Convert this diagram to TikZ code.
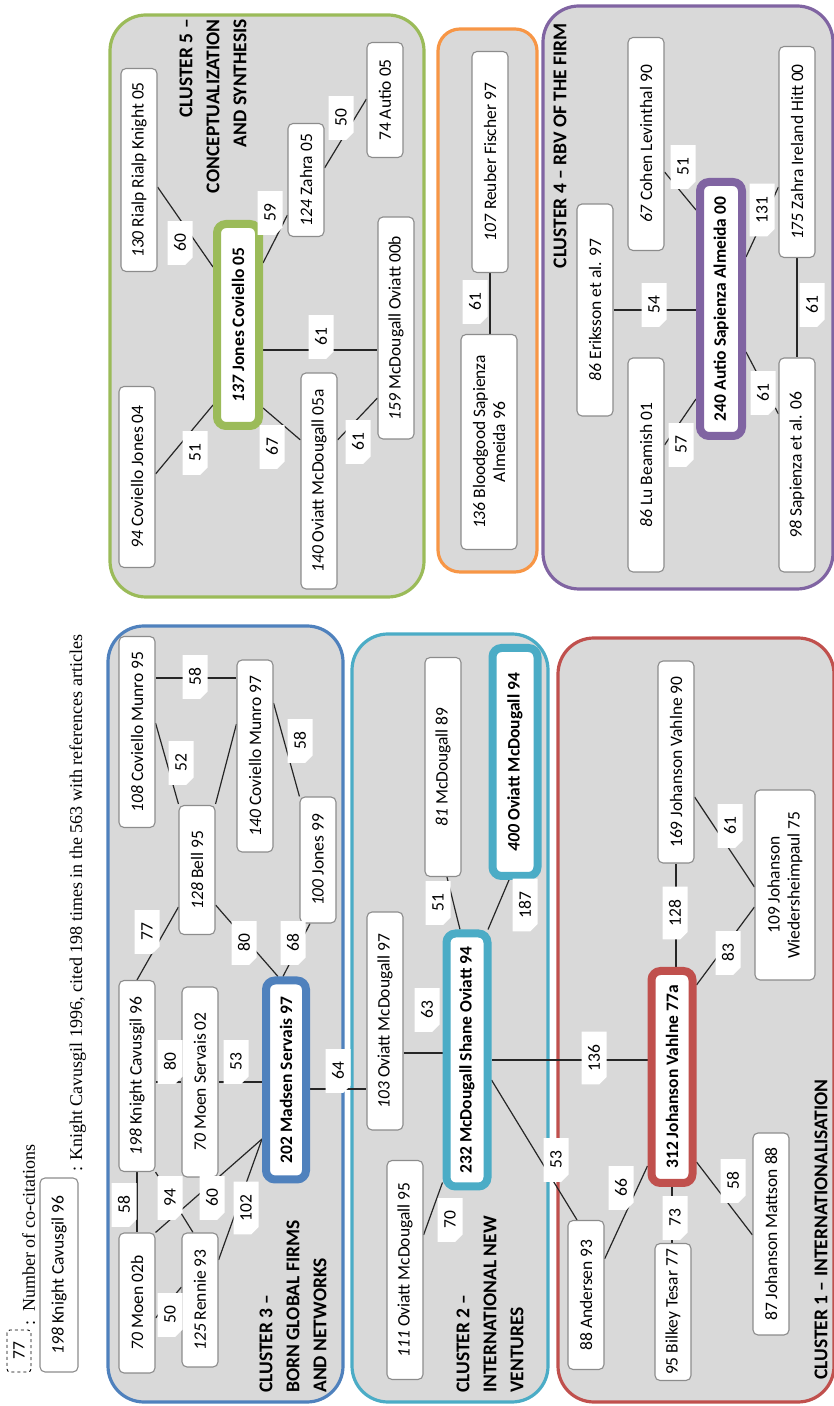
\documentclass[tikz,border=0pt]{standalone}
\usepackage{fontspec}
\setmainfont{Carlito}
\newfontfamily\legendfont{Liberation Serif}
\usepackage{xcolor}
\usetikzlibrary{shapes.misc}

\definecolor{cgreen}{HTML}{9BBB59}
\definecolor{corange}{HTML}{F79646}
\definecolor{cpurple}{HTML}{8064A2}
\definecolor{cblue}{HTML}{4F81BD}
\definecolor{ccyan}{HTML}{4BACC6}
\definecolor{cred}{HTML}{C0504D}
\definecolor{cfill}{HTML}{D9D9D9}

\pgfdeclarelayer{clusters}
\pgfdeclarelayer{links}
\pgfsetlayers{clusters,links,main}

\begin{document}
\begin{tikzpicture}[
    x=1pt, y=1pt,
    ref/.style={rectangle, rounded corners=5pt, draw=black!45, line width=1.1pt, fill=white, minimum height=36pt, inner sep=2pt, font=\fontsize{17.5}{20}\selectfont, align=center},
    hub/.style={ref, line width=8pt, rounded corners=9pt, font=\fontsize{17.5}{20}\selectfont\bfseries},
    cnt/.style={chamfered rectangle, chamfered rectangle corners=south west, chamfered rectangle xsep=4pt, fill=white, minimum width=40pt, minimum height=25pt, inner xsep=9pt, inner ysep=1pt, font=\fontsize{17.5}{20}\selectfont},
    link/.style={line width=1.2pt, black!85},
    cluster/.style={rounded corners=36pt, line width=3.2pt, fill=cfill},
    clabel/.style={font=\fontsize{19.5}{27}\selectfont\bfseries, inner sep=0pt},
    dashbox/.style={draw, dashed, line width=0.9pt, rounded corners=3pt, minimum width=42pt, minimum height=24pt, inner sep=0pt, font=\fontsize{17.5}{20}\selectfont},
    legendtxt/.style={font=\legendfont\fontsize{18}{20}\selectfont, inner sep=0pt}
]
\begin{scope}[rotate=90, transform shape]
\useasboundingbox (0,0) rectangle (1406,-834);

% Legend
\node[dashbox] (key) at (55,-19) {77};
\node[legendtxt, anchor=base west] (keytxt) at (80,-35) {:\ \ Number of co-citations};
\node[ref, minimum width=194pt, minimum height=38pt] (keyref) at (131,-59) {\textit{198} Knight Cavusgil 96};
\node[legendtxt, anchor=base west] (keyreftxt) at (234,-82) {: Knight Cavusgil 1996, cited 198 times in the 563 with references articles};

% Cluster frames
\begin{pgfonlayer}{clusters}
\draw[cluster, draw=cgreen] (809,-110) rectangle (1391,-424);
\draw[cluster, draw=corange, rounded corners=22pt] (834,-438) rectangle (1377,-537);
\draw[cluster, draw=cpurple] (817,-543) rectangle (1400,-833);
\draw[cluster, draw=cblue] (4,-108) rectangle (780,-343);
\draw[cluster, draw=ccyan] (4,-352) rectangle (772,-548);
\draw[cluster, draw=cred] (4,-558) rectangle (768,-834);
\end{pgfonlayer}

% Cluster titles
\node[clabel, align=right, anchor=east] (c5lab) at (1387,-213) {CLUSTER 5 –\\CONCEPTUALIZATION\\AND SYNTHESIS};
\node[clabel, anchor=east] (c4lab) at (1383,-560) {CLUSTER 4 – RBV OF THE FIRM};
\node[clabel, align=left, anchor=west] (c3lab) at (13,-293) {CLUSTER 3 –\\BORN GLOBAL FIRMS\\AND NETWORKS};
\node[clabel, align=left, anchor=west] (c2lab) at (13,-490) {CLUSTER 2 –\\INTERNATIONAL NEW\\VENTURES};
\node[clabel, anchor=west] (c1lab) at (26,-821) {CLUSTER 1 – INTERNATIONALISATION};

% Cluster 5: conceptualization and synthesis
\node[ref, minimum width=203pt] (rialp) at (1236,-139) {\textit{130} Rialp Rialp Knight 05};
\node[hub, draw=cgreen, minimum width=202pt, minimum height=42pt] (jonescov) at (1081,-238) {\textit{137} Jones Coviello 05};
\node[ref, minimum width=181pt] (covjones) at (929,-137) {\textit{94} Coviello Jones 04};
\node[ref, minimum width=113pt] (zahra) at (1226,-306) {\textit{124} Zahra 05};
\node[ref, minimum width=115pt] (autio) at (1306,-385) {74 Autio 05};
\node[ref, minimum width=222pt] (mcdov) at (1078,-396) {\textit{159} McDougall Oviatt 00b};
\node[ref, minimum width=216pt] (ovmcd) at (925,-319) {\textit{140} Oviatt McDougall 05a};

\begin{pgfonlayer}{links}
\draw[link] ([xshift=-17pt]rialp.south) -- ([xshift=58pt]jonescov.north);
\draw[link] ([xshift=3pt]covjones.south) -- ([xshift=-80pt]jonescov.north);
\draw[link] ([xshift=62pt]jonescov.south) -- ([xshift=-35pt]zahra.north);
\draw[link] ([xshift=-83pt]jonescov.south) -- ([xshift=41pt]ovmcd.north);
\draw[link] ([xshift=-25pt]jonescov.south) -- ([xshift=-22pt]mcdov.north);
\draw[link] ([xshift=41pt]ovmcd.south) -- ([xshift=-70pt]mcdov.north);
\draw[link] ([xshift=12pt]zahra.south) -- ([xshift=1pt]autio.north);
\end{pgfonlayer}

\node[cnt] (rialpjc) at (1163,-180) {60};
\node[cnt] (jczahra) at (1193,-270) {59};
\node[cnt] (cjjc) at (953,-195) {51};
\node[cnt] (jcovmcd) at (959,-272) {67};
\node[cnt] (jcmcdov) at (1069,-321) {61};
\node[cnt] (ovmcdov) at (964,-358) {61};
\node[cnt] (zahraautio) at (1288,-341) {50};

% Orange group
\node[ref, minimum width=221pt] (reuber) at (1244,-490) {\textit{107} Reuber Fischer 97};
\node[ref, minimum width=215pt, minimum height=56pt] (bloodgood) at (964,-489) {\textit{136} Bloodgood Sapienza\\Almeida 96};
\begin{pgfonlayer}{links}
\draw[link] (reuber.west) -- (reuber.west -| bloodgood.east);
\end{pgfonlayer}
\node[cnt] (reuberbg) at (1104,-475) {61};

% Cluster 4: RBV of the firm
\node[ref, minimum width=213pt] (cohen) at (1262,-646) {\textit{67} Cohen Levinthal 90};
\node[hub, draw=cpurple, minimum width=254pt, minimum height=42pt] (autiosap) at (1097,-721) {240 Autio Sapienza Almeida 00};
\node[ref, minimum width=211pt] (zahrair) at (1254,-797) {\textit{175} Zahra Ireland Hitt 00};
\node[ref, minimum width=212pt] (eriksson) at (1096,-595) {\textit{86} Eriksson et al. 97};
\node[ref, minimum width=214pt] (lubeamish) at (941,-646) {\textit{86} Lu Beamish 01};
\node[ref, minimum width=214pt] (sapienza) at (941,-797) {\textit{98} Sapienza et al. 06};

\begin{pgfonlayer}{links}
\draw[link] ([xshift=-28pt]cohen.south) -- ([xshift=99pt]autiosap.north);
\draw[link] (eriksson.south) -- (eriksson.south |- autiosap.north);
\draw[link] ([xshift=52pt]autiosap.south) -- ([xshift=-35pt]zahrair.north);
\draw[link] ([xshift=20pt]lubeamish.south) -- ([xshift=-90pt]autiosap.north);
\draw[link] ([xshift=-43pt]autiosap.south) -- ([xshift=51pt]sapienza.north);
\draw[link] (zahrair.west) -- (zahrair.west -| sapienza.east);
\end{pgfonlayer}

\node[cnt] (cohenas) at (1239,-683) {51};
\node[cnt] (erikas) at (1101,-654) {54};
\node[cnt] (aszahra) at (1196,-762) {131};
\node[cnt] (luas) at (961,-681) {57};
\node[cnt] (assap) at (1013,-763) {61};
\node[cnt] (zahrasap) at (1101,-812) {61};

% Cluster 3: born global firms and networks
\node[ref, minimum width=191pt] (cm95) at (674,-137) {\textit{108} Coviello Munro 95};
\node[ref, minimum width=192pt] (cm97) at (650,-255) {\textit{140} Coviello Munro 97};
\node[ref, minimum width=129pt] (bell) at (536,-197) {\textit{128} Bell 95};
\node[ref, minimum width=126pt] (jones99) at (546,-318) {\textit{100} Jones 99};
\node[ref, minimum width=191pt] (kc96) at (330,-137) {\textit{198} Knight Cavusgil 96};
\node[ref, minimum width=190pt] (ms02) at (324,-200) {\textit{70} Moen Servais 02};
\node[hub, draw=cblue, minimum width=199pt, minimum height=40pt] (madsen) at (326,-286) {202 Madsen Servais 97};
\node[ref, minimum width=140pt] (moen02b) at (103,-137) {\textit{70} Moen 02b};
\node[ref, minimum width=134pt] (rennie) at (106,-200) {\textit{125} Rennie 93};

% Cluster 2: international new ventures
\node[ref, minimum width=219pt] (mcd89) at (639,-443) {\textit{81} McDougall 89};
\node[hub, draw=ccyan, minimum width=228pt, minimum height=45pt] (om94) at (644,-515) {\textit{400} Oviatt McDougall 94};
\node[ref, minimum width=218pt] (ov97) at (385,-385) {\textit{103} Oviatt McDougall 97};
\node[hub, draw=ccyan, minimum width=253pt, minimum height=41pt] (msov94) at (346,-467) {232 McDougall Shane Oviatt 94};
\node[ref, minimum width=219pt] (ov95) at (136,-405) {\textit{111} Oviatt McDougall 95};

% Cluster 1: internationalisation
\node[ref, minimum width=202pt] (jv90) at (644,-676) {169 Johanson Vahlne 90};
\node[ref, minimum width=190pt, minimum height=60pt] (jw75) at (521,-785) {109 Johanson\\Wiedersheimpaul 75};
\node[hub, draw=cred, minimum width=212pt, minimum height=41pt] (jv77a) at (329,-672) {312 Johanson Vahlne 77a};
\node[ref, minimum width=149pt] (andersen) at (111,-586) {88 Andersen 93};
\node[ref, minimum width=137pt] (bilkey) at (94,-673) {95 Bilkey Tesar 77};
\node[ref, minimum width=202pt] (jm88) at (172,-771) {87 Johanson Mattson 88};

\begin{pgfonlayer}{links}
% cluster 3
\draw[link] ([xshift=54pt]cm95.south) -- ([xshift=78pt]cm97.north);
\draw[link] ([xshift=9pt]cm95.south) -- ([xshift=66pt]bell.north);
\draw[link] ([xshift=32pt]cm97.north) -- ([xshift=66pt]bell.south);
\draw[link] ([xshift=-37pt]bell.north) -- (kc96.east);
\draw[link] ([xshift=-35pt]bell.south) -- ([yshift=8pt]madsen.east);
\draw[link] ([xshift=53pt]cm97.south) -- (jones99.north east);
\draw[link] ([yshift=8pt]jones99.west) -- ([yshift=3pt]madsen.east);
\draw[link] (kc96.south -| ms02.north) -- (ms02.north);
\draw[link] (ms02.south) -- (ms02.south |- madsen.north);
\draw[link] (kc96.west) -- (moen02b.east);
\draw[link] (kc96.south west) -- ([yshift=7pt]rennie.east);
\draw[link] (moen02b.south east) -- ([xshift=-59pt]madsen.north);
\draw[link] ([xshift=40pt]rennie.south) -- ([xshift=-59pt]madsen.north);
\draw[link] ([xshift=-15pt]moen02b.south) -- ([xshift=13pt]rennie.north);
\draw[link] ([xshift=-9pt]madsen.south) -- ([xshift=-9pt]madsen.south |- ov97.north);
% cluster 2
\draw[link] ([yshift=-4pt]mcd89.west) -- ([yshift=7pt]msov94.east);
\draw[link] ([yshift=6pt]om94.west) -- ([yshift=-21pt]msov94.east);
\draw[link] ([xshift=-32pt]ov97.south) -- ([xshift=-32pt]ov97.south |- msov94.north);
\draw[link] ([xshift=35pt]ov95.south) -- ([xshift=8pt]msov94.north west);
\draw[link] (msov94.south) -- (msov94.south |- jv77a.north);
\draw[link] ([xshift=-20pt]msov94.south) -- ([yshift=9pt]andersen.east);
% cluster 1
\draw[link] (jv90.west) -- (jv90.west -| jv77a.east);
\draw[link] ([xshift=-35pt]jv90.south) -- ([xshift=-2pt]jw75.north);
\draw[link] ([xshift=-22pt]jw75.north) -- ([xshift=92pt]jv77a.south);
\draw[link] ([xshift=-89pt]jv77a.north) -- ([xshift=36pt]andersen.south);
\draw[link] (jv77a.west) -- (jv77a.west -| bilkey.east);
\draw[link] ([xshift=-85pt]jv77a.south) -- ([xshift=-1pt]jm88.north);
\end{pgfonlayer}

% Co-citation counts
\node[cnt] (cmcm) at (729,-195) {58};
\node[cnt] (cmbell) at (643,-181) {52};
\node[cnt] (bellkc) at (474,-147) {77};
\node[cnt] (bellmad) at (463,-244) {80};
\node[cnt] (cmjones) at (665,-300) {58};
\node[cnt] (jonesmad) at (463,-293) {68};
\node[cnt] (kcms) at (344,-170) {80};
\node[cnt] (msmad) at (344,-236) {53};
\node[cnt] (kcmoen) at (201,-124) {58};
\node[cnt] (kcrennie) at (208,-170) {94};
\node[cnt] (moenmad) at (208,-212) {60};
\node[cnt] (renniemad) at (198,-246) {102};
\node[cnt] (moenrennie) at (91,-170) {50};
\node[cnt] (madov) at (335,-338) {64};

\node[cnt] (mcdms) at (503,-438) {51};
\node[cnt] (omms) at (501,-525) {187};
\node[cnt] (ovms) at (396,-427) {63};
\node[cnt] (ov95ms) at (186,-450) {70};
\node[cnt] (msjv) at (348,-594) {136};
\node[cnt] (msand) at (246,-556) {53};

\node[cnt] (jvjv) at (493,-675) {128};
\node[cnt] (jvjw) at (580,-730) {61};
\node[cnt] (jwjv) at (453,-728) {83};
\node[cnt] (jvand) at (218,-621) {66};
\node[cnt] (jvbil) at (188,-675) {73};
\node[cnt] (jvjm) at (225,-733) {58};

\end{scope}
\end{tikzpicture}
\end{document}
